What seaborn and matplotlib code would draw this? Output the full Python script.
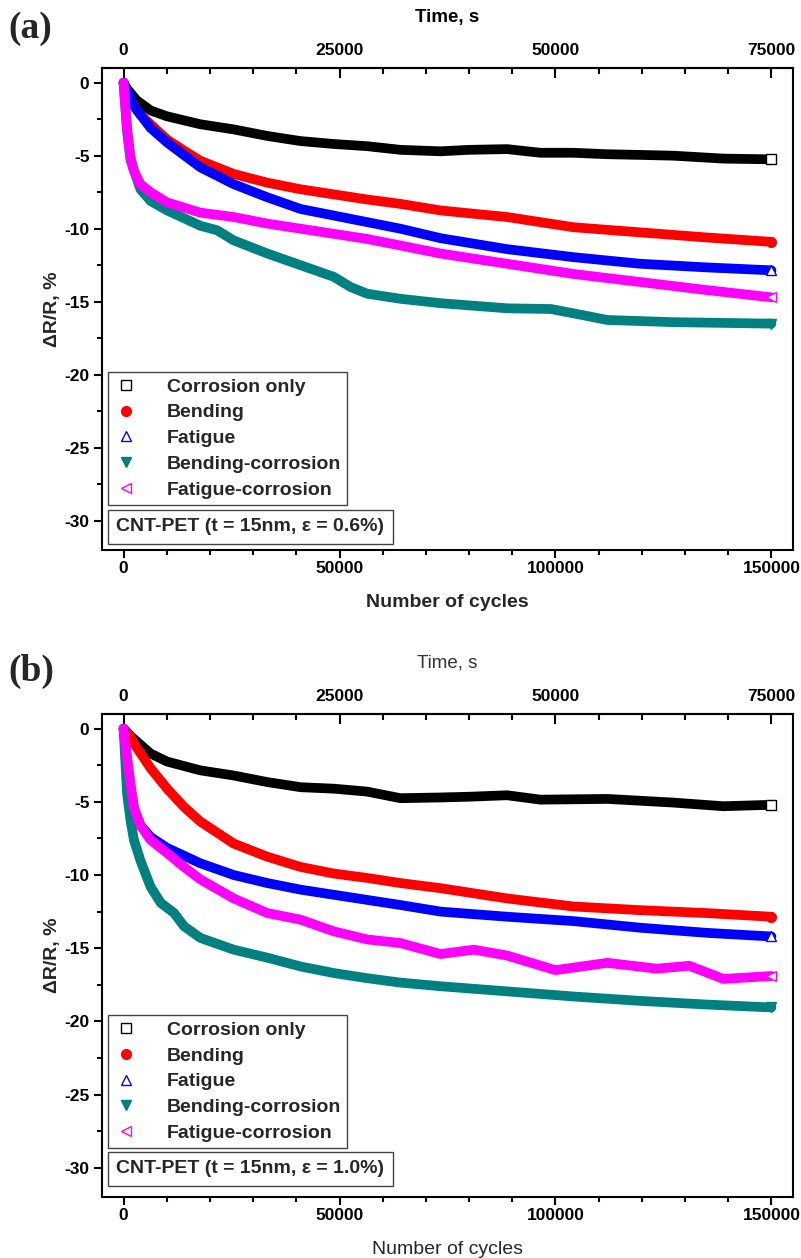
import numpy as np
import pandas as pd
import matplotlib
matplotlib.use("Agg")
import matplotlib.pyplot as plt
from matplotlib.lines import Line2D
from matplotlib.ticker import MultipleLocator
import seaborn as sns

# ---------------- data ----------------
LABELS = ["Corrosion only", "Bending", "Fatigue", "Bending-corrosion", "Fatigue-corrosion"]

# panel (a)  eps = 0.6 %
A_CORR_X = [0, 500, 1600, 3000, 6250, 10000, 17800, 25500, 33300, 41000, 48700, 56400, 64100,
            73400, 80000, 88800, 96500, 104000, 112000, 120000, 127300, 138900, 150000]
A_CORR_Y = [0, -0.3, -0.7, -1.2, -1.9, -2.3, -2.85, -3.2, -3.65, -4.0, -4.2, -4.35, -4.6,
            -4.7, -4.6, -4.55, -4.8, -4.8, -4.9, -4.95, -5.0, -5.2, -5.25]
A_BEND_X = [0, 1500, 3900, 6250, 10100, 14000, 17800, 25500, 33300, 41000, 48700, 56400, 64100,
            73400, 88800, 104200, 119600, 135000, 150000]
A_BEND_Y = [0, -1.2, -2.2, -2.85, -3.9, -4.65, -5.35, -6.25, -6.85, -7.3, -7.65, -8.0, -8.3,
            -8.75, -9.2, -9.9, -10.25, -10.6, -10.9]
A_FAT_X = [0, 1600, 2400, 6250, 10100, 17800, 25500, 33300, 41000, 48700, 56400, 64100,
           73400, 88800, 104200, 119600, 135000, 150000]
A_FAT_Y = [0, -1.0, -1.6, -3.1, -4.1, -5.8, -6.95, -7.85, -8.65, -9.1, -9.55, -10.0,
           -10.65, -11.4, -11.95, -12.4, -12.65, -12.85]
A_BC_X = [0, 800, 1600, 3900, 6250, 10100, 17800, 21600, 25500, 33300, 41000, 48700, 52600,
          56400, 64100, 73400, 88800, 99000, 106000, 112000, 127300, 150000]
A_BC_Y = [0, -3.3, -5.3, -7.3, -8.1, -8.75, -9.8, -10.1, -10.8, -11.7, -12.5, -13.3, -14.0,
          -14.45, -14.8, -15.1, -15.45, -15.5, -15.9, -16.25, -16.4, -16.5]
A_FC_X = [0, 800, 1600, 2400, 3900, 6250, 10100, 17800, 25500, 33300, 41000, 48700, 56400,
          64100, 73400, 88800, 104200, 119600, 135000, 150000]
A_FC_Y = [0, -3.1, -5.1, -6.05, -6.95, -7.5, -8.2, -8.9, -9.2, -9.65, -10.0, -10.35, -10.7,
          -11.15, -11.7, -12.4, -13.1, -13.65, -14.2, -14.7]

# panel (b)  eps = 1.0 %
B_CORR_X = [0, 1600, 6250, 10100, 17800, 25500, 33300, 41000, 48700, 56400, 64100, 73400,
            80000, 88800, 96500, 112000, 127300, 138900, 150000]
B_CORR_Y = [0, -0.5, -1.7, -2.25, -2.85, -3.2, -3.65, -4.0, -4.1, -4.3, -4.75, -4.7,
            -4.65, -4.55, -4.85, -4.8, -5.05, -5.3, -5.2]
B_BEND_X = [0, 1600, 2400, 6250, 10100, 14000, 17800, 25500, 33300, 41000, 48700, 56400, 64100,
            73400, 88800, 104200, 119600, 135000, 150000]
B_BEND_Y = [0, -0.5, -1.0, -2.7, -4.1, -5.35, -6.35, -7.85, -8.75, -9.45, -9.9, -10.2, -10.55,
            -10.9, -11.6, -12.15, -12.4, -12.6, -12.85]
B_FAT_X = [0, 1200, 2400, 3900, 6250, 10100, 17800, 25500, 33300, 41000, 48700, 56400, 64100,
           73400, 88800, 104200, 119600, 135000, 150000]
B_FAT_Y = [0, -3.3, -5.55, -6.6, -7.4, -8.15, -9.2, -10.0, -10.55, -11.0, -11.35, -11.7, -12.05,
           -12.5, -12.85, -13.15, -13.6, -13.95, -14.2]
B_BC_X = [0, 800, 1600, 2400, 3900, 6250, 8600, 11700, 14000, 17800, 25500, 33300, 41000, 48700,
          56400, 64100, 73400, 88800, 104200, 119600, 135000, 150000]
B_BC_Y = [0, -4.4, -6.25, -7.6, -9.0, -10.8, -11.9, -12.6, -13.5, -14.3, -15.1, -15.65, -16.25, -16.7,
          -17.05, -17.35, -17.6, -17.95, -18.3, -18.6, -18.85, -19.05]
B_FC_X = [0, 1600, 2400, 3900, 6250, 10100, 14000, 17800, 25500, 33300, 41000, 48700, 56400, 64100,
          73400, 81100, 88800, 100000, 112000, 123500, 131000, 138900, 150000]
B_FC_Y = [0, -3.75, -5.35, -6.6, -7.6, -8.5, -9.45, -10.3, -11.6, -12.6, -13.05, -13.85, -14.4, -14.65,
          -15.4, -15.1, -15.5, -16.5, -16.0, -16.4, -16.2, -17.1, -16.9]

TIME_TICKS = [0, 25000, 50000, 75000]
ANNOT_A = "CNT-PET (t = 15nm, \u03b5 = 0.6%)"
ANNOT_B = "CNT-PET (t = 15nm, \u03b5 = 1.0%)"

# ---------------- style ----------------
COLORS = ["#000000", "#ff0000", "#0000ff", "#008080", "#ff00ff"]
MARKERS = ["s", "o", "^", "v", "<"]
FILLED = [False, True, False, True, False]

sns.set_theme(style="ticks")
plt.rcParams["font.family"] = ["Liberation Sans", "DejaVu Sans"]
plt.rcParams["axes.unicode_minus"] = False
plt.rcParams["axes.edgecolor"] = "black"
plt.rcParams["xtick.color"] = "black"
plt.rcParams["ytick.color"] = "black"

fig = plt.figure(figsize=(8.01, 12.58), dpi=100)
ax_a = fig.add_axes([0.1273, 0.5628, 0.8627, 0.3831])
ax_b = fig.add_axes([0.1273, 0.0485, 0.8627, 0.3839])

TICK_FS = 12.5
LABEL_FS = 14
LEG_FS = 14


def draw(ax, series, legend_top, annot_y, annot, panel_b=False):
    for (x, y), col, mk, filled in zip(series, COLORS, MARKERS, FILLED):
        sns.lineplot(x=x, y=y, ax=ax, color=col, linewidth=7.0, estimator=None,
                     marker=mk, markevery=[len(x) - 1], markersize=7,
                     markerfacecolor=col if filled else "white", markeredgecolor=col,
                     markeredgewidth=1.0, solid_capstyle="round", solid_joinstyle="round",
                     legend=False)
    ax.set_xlim(-5000, 155000)
    ax.set_ylim(-32, 1)
    ax.xaxis.set_major_locator(MultipleLocator(50000))
    ax.xaxis.set_minor_locator(MultipleLocator(10000))
    ax.yaxis.set_major_locator(MultipleLocator(5))
    ax.yaxis.set_minor_locator(MultipleLocator(2.5))
    ax.tick_params(axis="both", which="both", direction="out", top=False, right=False,
                   width=1.5, labelsize=TICK_FS)
    ax.tick_params(axis="x", which="major", length=6, pad=2)
    ax.tick_params(axis="y", which="major", length=6, pad=3)
    ax.tick_params(which="minor", length=3.5)
    for lab in ax.get_xticklabels() + ax.get_yticklabels():
        lab.set_fontweight("bold")
    for sp in ax.spines.values():
        sp.set_visible(True)
        sp.set_linewidth(1.5)
        sp.set_color("black")
    ax.set_xlabel("Number of cycles", fontsize=LABEL_FS,
                  fontweight="normal" if panel_b else "bold", labelpad=13)
    ax.set_ylabel("\u0394R/R, %", fontsize=LABEL_FS, fontweight="bold", labelpad=2)

    sec = ax.secondary_xaxis("top", functions=(lambda c: c / 2.0, lambda t: t * 2.0))
    sec.set_xticks(TIME_TICKS)
    sec.xaxis.set_minor_locator(MultipleLocator(5000))
    sec.tick_params(which="both", direction="in", width=1.5, labelsize=TICK_FS, pad=7.5)
    sec.tick_params(which="major", length=7)
    sec.tick_params(which="minor", length=4)
    for lab in sec.get_xticklabels():
        lab.set_fontweight("bold")
    sec.spines["top"].set_linewidth(1.5)
    sec.set_xlabel("Time, s", fontsize=LABEL_FS - 0.5, fontweight="normal" if panel_b else "bold",
                   labelpad=15, color="#333333" if panel_b else "black")

    handles = [Line2D([], [], linestyle="none", marker=mk, color=col, markersize=7,
                      markerfacecolor=col if filled else "white", markeredgecolor=col,
                      markeredgewidth=1.0)
               for col, mk, filled in zip(COLORS, MARKERS, FILLED)]
    leg = ax.legend(handles, LABELS, loc="upper left", bbox_to_anchor=(0.009, legend_top),
                    frameon=True, fancybox=False, edgecolor="#444444", framealpha=1,
                    prop={"weight": "bold", "size": LEG_FS}, handlelength=1.2,
                    handletextpad=1.5, labelspacing=0.42, borderpad=0.3,
                    borderaxespad=0.0)
    leg.get_frame().set_linewidth(1.0)
    ax.text(0.021, annot_y, annot, transform=ax.transAxes, fontsize=LEG_FS, fontweight="bold",
            va="center", ha="left",
            bbox=dict(boxstyle="square,pad=0.45", facecolor="white", edgecolor="#444444",
                      linewidth=1.0))


draw(ax_a, [(A_CORR_X, A_CORR_Y), (A_BEND_X, A_BEND_Y), (A_FAT_X, A_FAT_Y),
            (A_BC_X, A_BC_Y), (A_FC_X, A_FC_Y)], 0.369, 0.048, ANNOT_A)
draw(ax_b, [(B_CORR_X, B_CORR_Y), (B_BEND_X, B_BEND_Y), (B_FAT_X, B_FAT_Y),
            (B_BC_X, B_BC_Y), (B_FC_X, B_FC_Y)], 0.376, 0.058, ANNOT_B, panel_b=True)

fig.text(0.011, 0.977, "(a)", fontfamily="Liberation Serif", fontweight="bold",
         fontsize=27, va="center", ha="left")
fig.text(0.011, 0.466, "(b)", fontfamily="Liberation Serif", fontweight="bold",
         fontsize=27, va="center", ha="left")

fig.savefig("out.png", dpi=100)
